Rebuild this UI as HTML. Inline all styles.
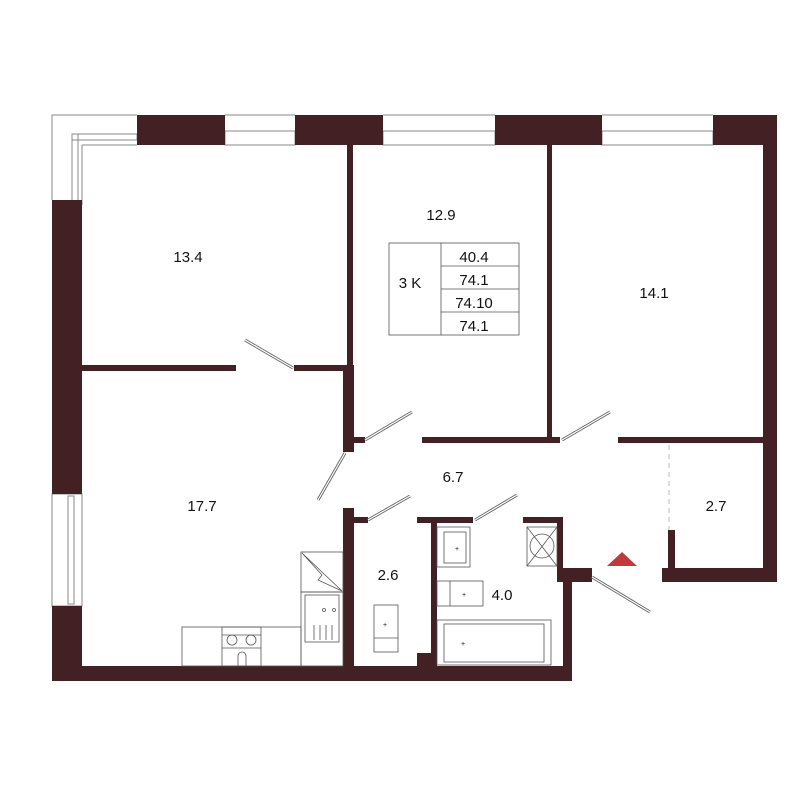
<!DOCTYPE html>
<html><head><meta charset="utf-8"><style>
html,body{margin:0;padding:0;background:#fff;}
svg{display:block;}
text{font-family:"Liberation Sans",sans-serif;fill:#111;}
</style></head><body>
<svg width="800" height="800" viewBox="0 0 800 800" xmlns="http://www.w3.org/2000/svg">
<g fill="none" stroke="#888" stroke-width="1">
  <path d="M52 200 V115 H137"/>
  <rect x="72" y="134" width="65" height="6"/>
  <rect x="72" y="134" width="6" height="70"/>
  <path d="M82 145 H137 M82 145 V205"/>
  <rect x="225" y="131" width="70" height="14"/>
  <line x1="225" y1="115" x2="295" y2="115"/>
  <rect x="383" y="131" width="112" height="14"/>
  <line x1="383" y1="115" x2="495" y2="115"/>
  <rect x="602" y="131" width="111" height="14"/>
  <line x1="602" y1="115" x2="713" y2="115"/>
  <rect x="52" y="494" width="30" height="112"/>
  <rect x="68" y="496" width="6" height="108"/>
</g>
<g fill="#432024">
  <rect x="137" y="115" width="88" height="30"/>
  <rect x="295" y="115" width="88" height="30"/>
  <rect x="495" y="115" width="107" height="30"/>
  <rect x="713" y="115" width="64" height="30"/>
  <rect x="763" y="115" width="14" height="467"/>
  <rect x="52" y="200" width="30" height="294"/>
  <rect x="52" y="606" width="30" height="75"/>
  <rect x="52" y="666" width="520" height="15"/>
  <rect x="347" y="145" width="6" height="225"/>
  <rect x="343" y="365" width="11" height="87"/>
  <rect x="82" y="365" width="154" height="6"/>
  <rect x="294" y="365" width="53" height="6"/>
  <rect x="547" y="145" width="5" height="298"/>
  <rect x="354" y="437" width="11" height="6"/>
  <rect x="422" y="437" width="138" height="6"/>
  <rect x="618" y="437" width="145" height="6"/>
  <rect x="343" y="508" width="11" height="158"/>
  <rect x="354" y="517" width="14" height="6"/>
  <rect x="417" y="517" width="56" height="6"/>
  <rect x="431" y="517" width="6" height="149"/>
  <rect x="417" y="653" width="20" height="13"/>
  <rect x="523" y="517" width="40" height="6"/>
  <rect x="557" y="517" width="6" height="65"/>
  <rect x="557" y="568" width="35" height="14"/>
  <rect x="563" y="568" width="9" height="113"/>
  <rect x="662" y="568" width="115" height="14"/>
  <rect x="668" y="530" width="7" height="40"/>
</g>
<g fill="none" stroke="#666" stroke-width="3">
  <line x1="245" y1="340" x2="293" y2="368"/>
  <line x1="365" y1="440" x2="412" y2="412"/>
  <line x1="345" y1="453" x2="318" y2="500"/>
  <line x1="368" y1="520" x2="410" y2="496"/>
  <line x1="475" y1="520" x2="517" y2="495"/>
  <line x1="562" y1="440" x2="610" y2="412"/>
  <line x1="592" y1="577" x2="650" y2="612"/>
</g>
<g fill="none" stroke="#fff" stroke-width="1.2">
  <line x1="245" y1="340" x2="293" y2="368"/>
  <line x1="365" y1="440" x2="412" y2="412"/>
  <line x1="345" y1="453" x2="318" y2="500"/>
  <line x1="368" y1="520" x2="410" y2="496"/>
  <line x1="475" y1="520" x2="517" y2="495"/>
  <line x1="562" y1="440" x2="610" y2="412"/>
  <line x1="592" y1="577" x2="650" y2="612"/>
</g>
<line x1="669" y1="445" x2="669" y2="530" stroke="#bbb" stroke-dasharray="5,4"/>
<polygon points="622,552 607,566 637,566" fill="#c0393f"/>
<g fill="none" stroke="#555" stroke-width="0.8">
  <rect x="389" y="243" width="130" height="92"/>
  <line x1="441" y1="243" x2="441" y2="335"/>
  <line x1="441" y1="266" x2="519" y2="266"/>
  <line x1="441" y1="289" x2="519" y2="289"/>
  <line x1="441" y1="312" x2="519" y2="312"/>
  <rect x="182" y="627" width="119" height="39"/>
  <rect x="222" y="627" width="39" height="39"/>
  <line x1="222" y1="635" x2="261" y2="635"/>
  <line x1="222" y1="648" x2="261" y2="648"/>
  <circle cx="232" cy="640" r="5"/><circle cx="251" cy="640" r="5"/>
  <path d="M238 666 V656 a4 4 0 0 1 8 0 V666"/>
  <rect x="301" y="552" width="42" height="40"/>
  <path d="M302 553 L342 591 M302 553 L322 575 L318 580 L342 591"/>
  <rect x="301" y="592" width="42" height="74"/>
  <rect x="305" y="595" width="34" height="47"/>
  <circle cx="324" cy="610" r="1.5"/><circle cx="334" cy="610" r="1.5"/>
  <path d="M314 625v15 M320 625v15 M326 625v15 M332 625v15"/>
  <rect x="374" y="605" width="24" height="47"/>
  <line x1="374" y1="638" x2="398" y2="638"/>
  <rect x="437" y="527" width="33" height="40"/>
  <rect x="444" y="532" width="22" height="31"/>
  <rect x="527" y="527" width="30" height="39"/>
  <circle cx="542" cy="546" r="12"/>
  <path d="M527 527 L557 566 M557 527 L527 566"/>
  <rect x="437" y="581" width="46" height="25"/>
  <line x1="450" y1="581" x2="450" y2="606"/>
  <rect x="437" y="620" width="114" height="45"/>
  <rect x="444" y="624" width="100" height="38"/>
</g>
<g font-size="7" fill="#333"><text x="383" y="627">+</text><text x="455" y="551">+</text><text x="462" y="597">+</text><text x="461" y="646">+</text></g>
<g font-size="15" text-anchor="middle">
  <text x="188" y="262">13.4</text>
  <text x="441" y="220">12.9</text>
  <text x="654" y="298">14.1</text>
  <text x="202" y="511">17.7</text>
  <text x="453" y="482">6.7</text>
  <text x="716" y="511">2.7</text>
  <text x="388" y="580">2.6</text>
  <text x="502" y="600">4.0</text>
  <text x="410" y="288">3 K</text>
  <text x="474" y="262">40.4</text>
  <text x="474" y="285">74.1</text>
  <text x="474" y="308">74.10</text>
  <text x="474" y="331">74.1</text>
</g>
</svg>
</body></html>
